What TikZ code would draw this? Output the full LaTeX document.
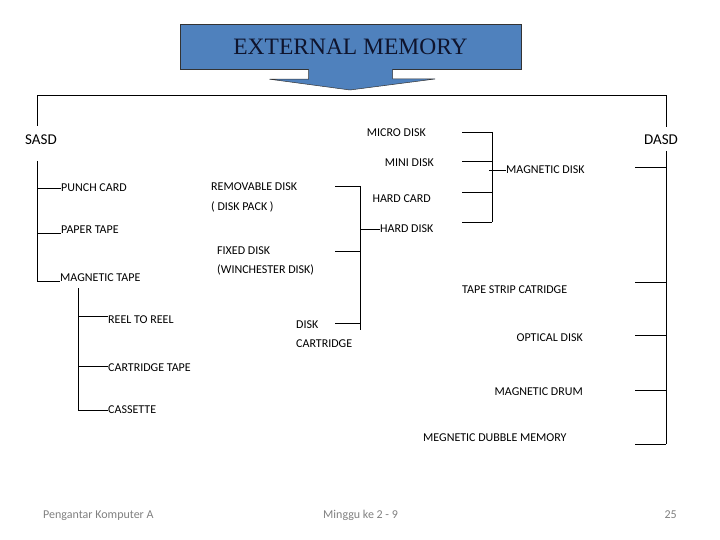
\documentclass[tikz,border=0pt]{standalone}
\usepackage{fontspec}
\setmainfont{Carlito}
\newfontfamily\titlefont{Liberation Serif}
\usetikzlibrary{positioning}
\definecolor{banner}{RGB}{79,129,189}
\definecolor{titletext}{RGB}{15,20,45}

\begin{document}
\begin{tikzpicture}[x=1pt, y=-1pt,
  font=\fontsize{12}{14}\selectfont,
  lbl/.style={inner sep=0pt, text height=7pt, text depth=0pt, anchor=west},
  lblr/.style={lbl, anchor=east},
  head/.style={inner sep=0pt, text height=10pt, text depth=0pt,
               font=\fontsize{15}{17}\selectfont},
  foot/.style={inner sep=0pt, text height=7pt, text depth=0pt, text=black!50,
               font=\fontsize{12}{14}\selectfont},
  ln/.style={line width=0.9pt}]

  \useasboundingbox (0,0) rectangle (720,540);

  % banner
  \node[draw=black!80, fill=banner, minimum width=341pt, minimum height=45pt,
        inner sep=0pt, font=\titlefont\fontsize{23.5}{25}\selectfont, text=titletext]
    (banner) at (350.5,46.5) {EXTERNAL MEMORY};
  \filldraw[fill=banner, draw=black!80, line width=0.5pt]
    ([xshift=-42pt]banner.south) -- ++(0,10) -- ++(-39,0) -- (350,90)
    -- (435,79) -- ([xshift=42pt]banner.south |- 0,79) -- ([xshift=42pt]banner.south);

  % heads
  \node[head] (sasd) at (41,140) {SASD};
  \node[head] (dasd) at (661,140) {DASD};

  % sequential side
  \node[lbl] (punch) at (61,188) {PUNCH CARD};
  \node[lbl] (paper) at (61,230) {PAPER TAPE};
  \node[lbl] (magtape) at (60,278) {MAGNETIC TAPE};
  \node[lbl] (reel) at (108,320) {REEL TO REEL};
  \node[lbl] (carttape) at (108,368) {CARTRIDGE TAPE};
  \node[lbl] (cassette) at (108,410) {CASSETTE};

  % hard disk group
  \node[lbl] (removable) at (211,187) {REMOVABLE DISK};
  \node[lbl] (diskpack) at (211,207) {( DISK PACK )};
  \node[lbl] (fixed) at (217,251) {FIXED DISK};
  \node[lbl] (winch) at (217,270) {(WINCHESTER DISK)};
  \node[lbl] (disk) at (296,325) {DISK};
  \node[lbl] (cartridge) at (296,344) {CARTRIDGE};
  \node[lbl] (harddisk) at (380,229) {HARD DISK};

  % magnetic disk group
  \node[lblr] (micro) at (426,133) {MICRO DISK};
  \node[lblr] (mini) at (434,163) {MINI DISK};
  \node[lblr] (hardcard) at (431,199) {HARD CARD};
  \node[lbl] (magdisk) at (506,170) {MAGNETIC DISK};

  % direct side
  \node[lbl] (tapestrip) at (462,290) {TAPE STRIP CATRIDGE};
  \node[lblr] (optical) at (583,338) {OPTICAL DISK};
  \node[lblr] (drum) at (583,392) {MAGNETIC DRUM};
  \node[lbl] (dubble) at (423,438) {MEGNETIC DUBBLE MEMORY};

  % footer
  \node[foot, anchor=west] (foot1) at (43,515) {Pengantar Komputer A};
  \node[foot, anchor=west] (foot2) at (323,515) {Minggu ke 2 - 9};
  \node[foot, anchor=east] (foot3) at (677,515) {25};

  % junctions
  \coordinate (ltop) at (37,95);
  \coordinate (rtop) at (666,95);
  \coordinate (sasdN) at (37,126);
  \coordinate (sasdS) at (37,161);
  \coordinate (dasdN) at (666,127);
  \coordinate (dasdS) at (666,151);
  \coordinate (tp) at (78,288);
  \coordinate (ctp) at (78,366);
  \coordinate (hd) at (360,186);
  \coordinate (hdB) at (360,330);
  \coordinate (md) at (492,132);
  \coordinate (mdB) at (492,222);

  % top bar
  \draw[ln] (sasdN) -- (ltop) -- (rtop) -- (dasdN);

  % left tree
  \draw[ln] (sasdS) |- (magtape.south west);
  \draw[ln] (sasdS |- punch.west) -- (punch.west);
  \draw[ln] (sasdS |- paper.south west) -- (paper.south west);
  \draw[ln] (tp) |- (cassette.west);
  \draw[ln] (tp |- reel.north west) -- (reel.north west);
  \draw[ln] (ctp) -- (ctp -| carttape.west);

  % hard disk bracket
  \draw[ln] (hd) -- (hdB);
  \foreach \y in {186, 251, 323}
    \draw[ln] (hd |- 0,\y) -- ++(-25,0);
  \draw[ln] (hd |- harddisk.west) -- (harddisk.west);

  % magnetic disk bracket
  \draw[ln] (md) -- (mdB);
  \foreach \y in {132, 161, 192, 222}
    \draw[ln] (md |- 0,\y) -- ++(-30,0);
  \draw[ln] ([xshift=-3pt]md |- magdisk.west) -- (magdisk.west);

  % right trunk
  \draw[ln] (dasdS) -- (666,444);
  \foreach \y in {167, 282, 335, 390, 444}
    \draw[ln] (dasdS |- 0,\y) -- ++(-31,0);
\end{tikzpicture}
\end{document}
